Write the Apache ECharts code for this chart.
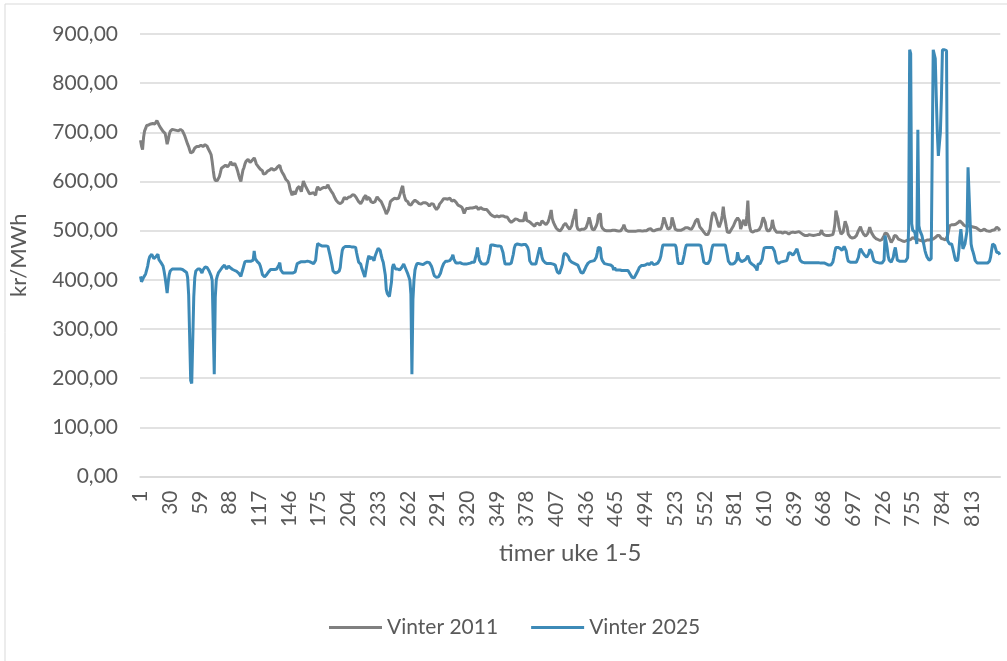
<!DOCTYPE html>
<html>
<head>
<meta charset="utf-8">
<title>Vinter 2011 / Vinter 2025</title>
<script src="https://cdn.jsdelivr.net/npm/echarts@6/dist/echarts.min.js"></script>
<style>
    html, body { margin: 0; padding: 0; background: #fff; }
    #chart { width: 1007px; height: 661px; }
</style>
</head>
<body>
<div id="chart"></div>
<script>
// timer 1..840 (uke 1-5)
const hours = Array.from({ length: 840 }, (_, i) => String(i + 1));

const seriesNames = ['Vinter 2011', 'Vinter 2025'];

// kr/MWh, one row per day (24 hours)
const vinter2011 = [
    684,672,665,690,703,708,714,716,715,718,717,716,718,716,717,720,724,720,715,713,708,705,702,700,
    698,688,676,684,695,702,705,706,706,705,705,704,703,703,705,706,706,703,699,694,688,682,676,671,
    664,658,655,660,664,668,671,671,672,671,672,674,673,671,673,675,676,672,667,664,659,654,640,623,
    608,602,602,602,605,610,618,627,629,630,631,633,631,630,629,635,640,636,633,635,637,632,627,620,
    612,605,600,612,623,628,636,641,645,645,642,639,640,643,645,648,643,636,633,630,627,625,624,622,
    615,611,616,620,621,623,623,624,627,625,623,623,625,627,630,633,633,625,620,616,613,609,604,603,
    600,595,584,578,572,580,584,574,578,586,589,590,586,579,590,601,596,591,588,583,579,575,572,576,
    579,577,574,572,584,589,586,583,584,586,586,588,588,587,590,593,588,584,581,579,575,570,567,562,
    559,557,555,555,556,558,563,568,566,564,566,568,570,569,571,573,574,572,569,566,562,559,557,555,
    557,562,567,570,572,562,568,572,565,559,558,557,558,559,564,569,566,563,562,559,555,550,547,540,
    534,538,542,550,559,561,563,564,566,568,565,562,566,569,578,586,591,576,568,562,560,559,554,550,
    552,555,558,562,562,560,559,557,555,555,554,554,557,559,557,555,555,552,550,550,555,559,554,549,
    546,543,543,548,554,557,559,559,565,569,565,562,564,566,566,562,560,561,562,562,558,555,552,550,
    550,548,547,541,535,540,545,545,545,545,546,547,546,545,547,549,549,546,543,545,547,547,544,542,
    543,545,543,542,538,535,533,532,530,528,528,529,530,529,528,528,530,532,530,527,528,528,528,525,
    521,518,517,516,520,523,524,525,523,520,520,520,520,520,520,530,538,521,520,519,518,516,513,512,
    510,509,514,518,515,513,511,515,520,518,516,514,512,511,518,525,533,542,525,518,513,509,505,501,
    501,500,500,502,506,511,515,515,511,508,505,503,503,510,520,527,535,544,510,503,500,501,502,503,
    503,503,504,506,508,518,527,520,510,503,500,502,505,510,516,531,535,535,510,505,502,501,501,500,
    500,500,500,500,500,501,501,501,500,500,500,499,499,500,502,506,512,506,501,500,499,499,499,499,
    499,499,499,499,499,499,500,500,500,499,499,499,500,500,500,501,503,505,504,500,500,500,500,501,
    502,503,503,503,503,508,517,527,521,514,508,503,503,505,510,527,520,512,503,502,501,501,501,501,
    501,502,503,504,506,507,506,505,504,503,503,506,510,514,520,522,524,520,508,505,503,500,497,495,
    492,488,492,497,502,517,530,537,535,534,527,520,512,507,507,519,531,549,530,520,508,497,495,496,
    500,503,507,510,515,520,524,526,522,520,503,510,517,522,515,510,530,561,520,506,499,498,497,498,
    500,501,500,499,502,506,510,520,527,522,517,505,500,500,500,503,507,522,510,503,500,497,497,497,
    497,497,496,495,496,497,497,496,494,493,494,496,497,497,497,496,497,497,500,498,497,495,493,492,
    491,490,491,490,491,492,492,491,490,490,491,491,492,492,492,492,492,501,494,492,491,490,490,490,
    490,490,491,491,492,500,514,541,532,524,508,500,493,495,497,508,519,513,507,493,490,487,486,485,
    485,486,488,490,495,500,504,508,501,497,493,490,489,488,494,500,507,500,495,491,488,486,484,483,
    482,481,480,480,482,486,490,495,497,494,492,486,481,476,473,483,490,493,489,485,483,482,481,480,
    479,478,478,479,480,481,481,481,482,484,486,485,484,483,483,482,481,480,480,479,478,478,479,480,
    481,481,481,481,482,483,483,484,486,487,490,492,490,487,484,483,483,482,481,481,490,500,510,512,
    512,512,512,513,513,514,516,518,520,518,516,514,511,508,509,510,510,510,509,508,508,508,507,507,
    506,505,503,501,500,500,501,502,503,501,500,500,499,499,499,500,501,501,502,504,507,508,504,500
];

const vinter2025 = [
    407,396,399,405,408,412,415,428,440,447,450,452,448,443,445,447,450,452,441,437,435,431,428,418,
    405,390,373,395,410,418,421,422,422,422,422,422,422,422,422,422,422,421,420,418,415,415,405,370,
    368,195,189,190,365,405,418,422,422,422,422,418,414,420,422,426,430,425,422,418,414,408,399,395,
    208,365,400,408,414,418,420,423,426,428,430,428,422,424,428,432,424,422,421,420,419,418,417,414,
    413,410,407,415,422,430,437,438,438,438,438,438,438,438,440,459,443,440,437,435,433,428,420,411,
    409,406,406,410,413,416,420,421,421,421,421,421,421,422,423,430,435,420,417,414,414,414,414,414,
    414,414,414,414,414,414,415,416,425,433,434,435,436,437,437,437,437,437,437,438,439,437,436,435,
    434,433,433,440,460,474,472,471,470,469,469,469,469,469,469,468,466,450,440,430,418,415,414,414,
    415,416,418,425,445,460,465,467,468,468,468,468,468,467,467,467,467,467,466,455,445,436,434,432,
    424,418,412,406,418,430,442,449,443,440,446,442,439,448,452,459,464,466,460,450,442,436,432,410,
    380,372,368,366,364,395,425,432,428,422,422,422,421,420,422,425,428,432,428,422,418,412,406,399,
    371,208,360,399,420,428,433,433,433,433,432,431,431,432,434,436,436,436,435,432,428,422,414,408,
    406,405,405,406,408,414,422,428,433,436,438,438,438,438,439,440,445,451,442,440,434,433,434,436,
    435,434,433,433,432,432,432,432,433,433,434,435,436,436,436,445,452,466,451,440,436,433,432,432,
    432,432,434,436,445,454,471,471,471,471,470,469,469,469,469,469,468,466,455,442,432,432,432,432,
    432,432,434,436,452,465,471,472,473,473,472,471,471,471,472,473,472,469,466,459,439,435,432,432,
    432,432,432,436,450,459,466,458,446,440,436,435,434,433,433,433,433,433,433,432,432,430,422,416,
    412,413,415,425,432,448,454,455,452,449,446,440,436,436,436,434,432,432,432,430,426,420,415,412,
    414,418,422,427,431,434,436,437,438,438,439,439,442,446,455,466,466,465,445,439,435,433,432,432,
    432,431,431,430,429,427,420,425,420,420,420,420,420,419,419,419,419,419,419,419,419,416,412,408,
    405,404,404,408,412,414,420,425,428,429,429,429,429,430,432,433,432,431,434,436,434,431,431,432,
    432,434,437,441,448,460,471,471,471,471,471,471,471,471,471,471,471,471,471,466,448,433,433,433,
    433,433,433,452,464,471,471,471,471,471,471,471,471,471,471,471,471,471,471,470,466,448,436,434,
    433,433,433,433,440,452,464,471,471,471,471,471,471,471,471,471,471,471,471,471,468,450,438,434,
    432,432,432,432,434,436,440,456,446,441,439,437,436,439,442,442,446,449,443,436,433,432,431,429,
    428,424,419,432,433,433,436,442,455,465,466,466,466,466,466,466,466,466,466,458,448,438,434,433,
    433,436,436,437,437,438,438,439,446,455,456,454,454,450,449,456,460,463,455,448,440,437,436,435,
    435,435,435,435,435,435,435,435,435,435,435,435,435,435,435,435,434,434,434,434,434,433,432,431,
    430,429,430,432,436,446,458,466,466,466,465,464,462,460,459,468,464,459,446,438,436,436,436,436,
    436,436,436,436,438,446,458,463,459,456,454,450,448,446,448,453,462,465,456,446,439,437,436,435,
    435,434,434,434,434,435,440,490,478,465,448,440,438,436,436,446,458,466,462,440,438,438,438,438,
    438,438,438,438,439,445,505,868,860,514,501,499,497,485,473,705,510,500,503,490,480,470,459,452,
    446,443,440,439,443,446,868,868,850,771,700,652,652,700,771,868,868,868,868,866,480,476,473,473,
    473,465,456,446,439,438,440,459,485,503,483,463,468,473,476,500,629,627,520,473,462,456,448,439,
    436,434,434,434,434,434,434,434,434,434,434,434,434,438,446,460,473,472,470,463,456,458,455,451
];

const seriesColors = ['#808080', '#3d8ab7'];
const FontColor = '#595959';
const GridColor = '#d9d9d9';
const FontFamily = 'Lato, "Liberation Sans", sans-serif';

const myChart = echarts.init(document.getElementById('chart'), null, { renderer: 'canvas' });

const option = {
    animation: false,
    backgroundColor: '#ffffff',
    textStyle: { fontFamily: FontFamily },
    graphic: [
        { type: 'line', shape: { x1: 5, y1: 4, x2: 1007, y2: 4 }, style: { stroke: GridColor, lineWidth: 1 } },
        { type: 'line', shape: { x1: 5, y1: 4, x2: 5, y2: 661 }, style: { stroke: GridColor, lineWidth: 1 } }
    ],
    legend: {
        left: 324,
        top: 612,
        icon: 'rect',
        itemWidth: 53,
        itemHeight: 3,
        itemGap: 33,
        textStyle: { color: FontColor, fontSize: 21, fontFamily: FontFamily },
        data: seriesNames
    },
    grid: {
        left: 139.3,
        right: 6.7,
        top: 34,
        bottom: 184.5,
        containLabel: false
    },
    xAxis: {
        type: 'category',
        data: hours,
        boundaryGap: true,
        name: 'timer uke 1-5',
        nameLocation: 'middle',
        nameGap: 65,
        nameTextStyle: { color: FontColor, fontSize: 24, fontFamily: FontFamily },
        axisLine: { show: true, lineStyle: { color: GridColor, width: 1.5 } },
        axisTick: { show: false },
        axisLabel: {
            interval: 28,
            rotate: 90,
            margin: 14,
            color: FontColor,
            fontSize: 21,
            fontFamily: FontFamily
        },
        splitLine: { show: false }
    },
    yAxis: {
        type: 'value',
        min: 0,
        max: 900,
        interval: 100,
        name: 'kr/MWh',
        nameLocation: 'middle',
        nameRotate: 90,
        nameGap: 110,
        nameTextStyle: { color: FontColor, fontSize: 22, fontFamily: FontFamily },
        axisLine: { show: false },
        axisTick: { show: false },
        axisLabel: {
            margin: 22,
            color: FontColor,
            fontSize: 21,
            fontFamily: FontFamily,
            formatter: v => v.toFixed(2).replace('.', ',')
        },
        splitLine: { show: true, lineStyle: { color: GridColor, width: 1.5 } }
    },
    series: [
        {
            name: seriesNames[0],
            type: 'line',
            data: vinter2011,
            symbol: 'none',
            lineStyle: { color: seriesColors[0], width: 3 },
            itemStyle: { color: seriesColors[0] },
            z: 2
        },
        {
            name: seriesNames[1],
            type: 'line',
            data: vinter2025,
            symbol: 'none',
            lineStyle: { color: seriesColors[1], width: 3 },
            itemStyle: { color: seriesColors[1] },
            z: 3
        }
    ]
};

myChart.setOption(option);
</script>
</body>
</html>
